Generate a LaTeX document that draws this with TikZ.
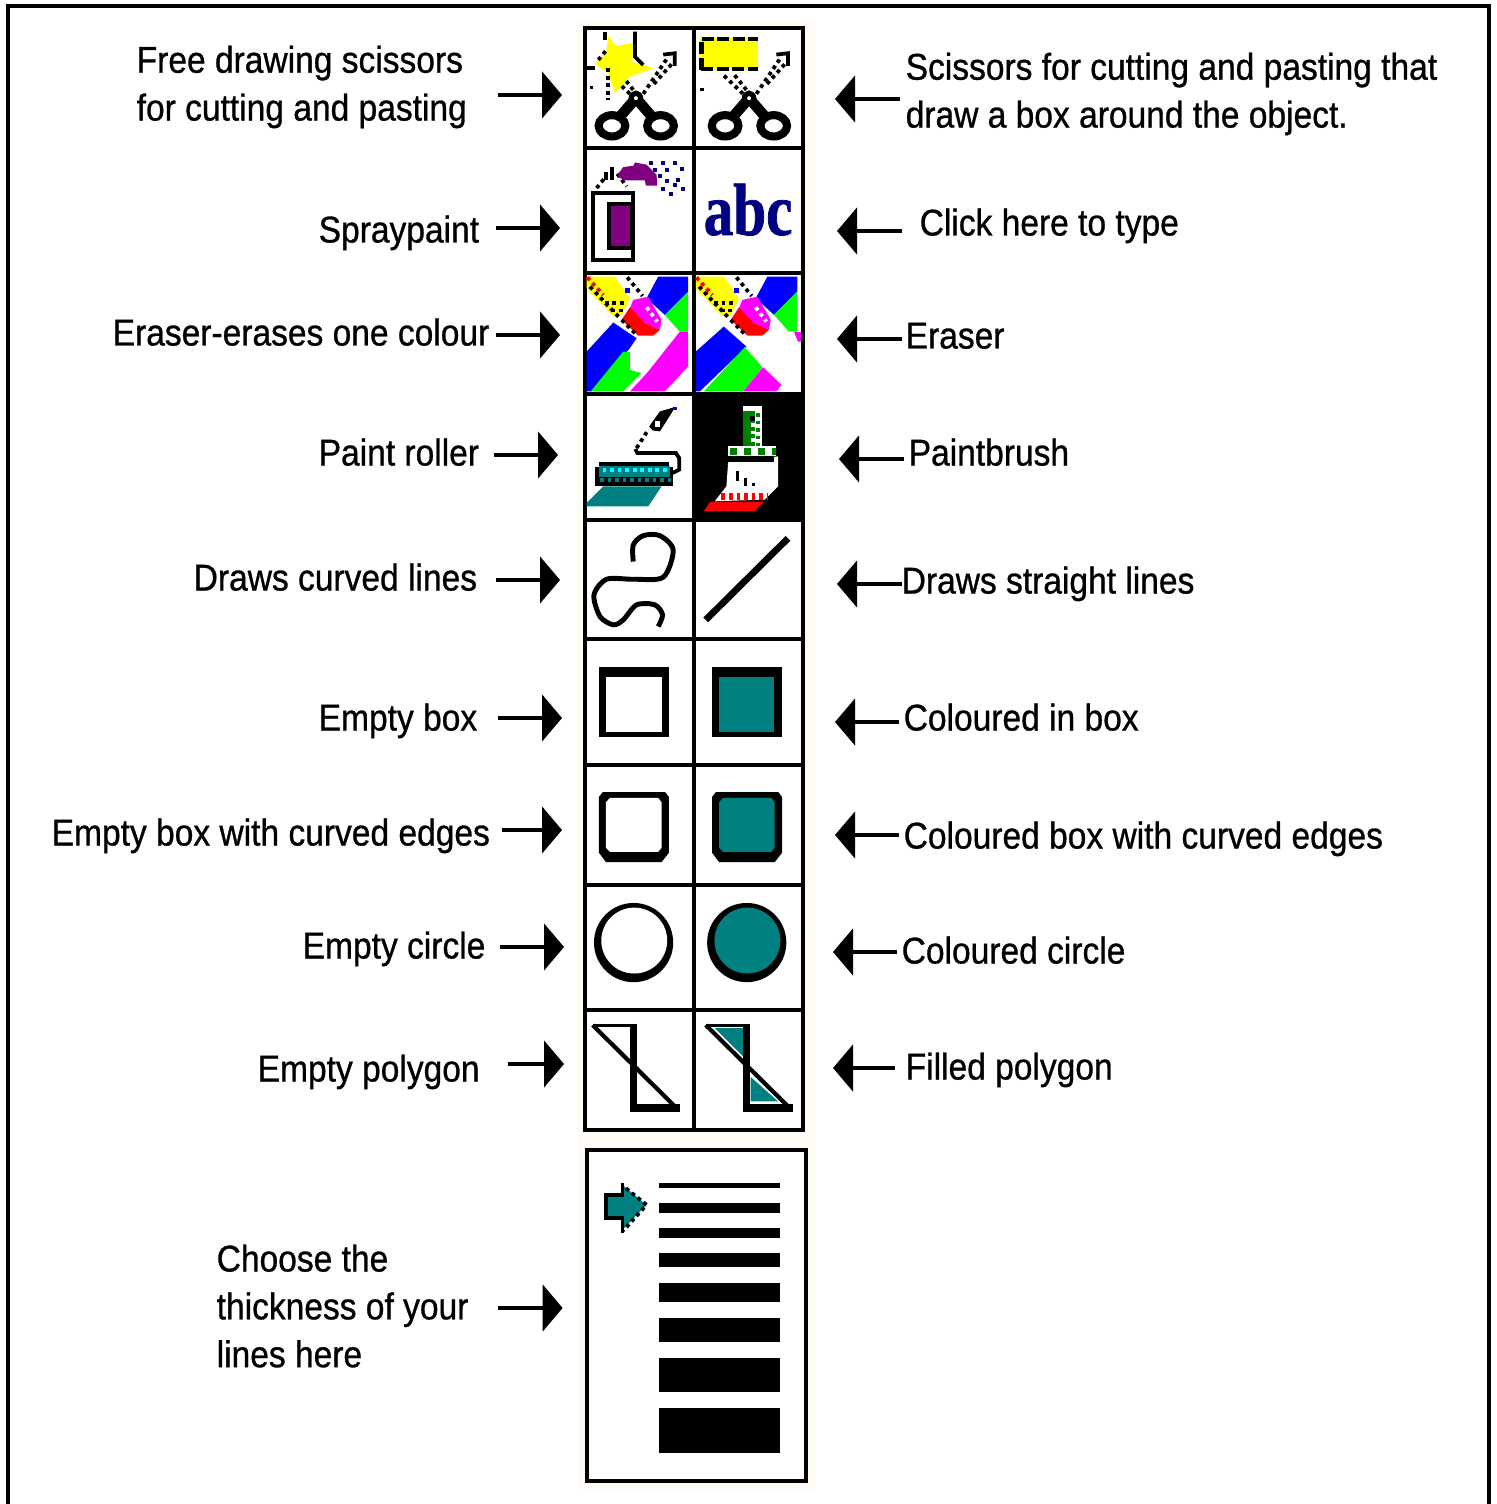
\documentclass[tikz,border=0pt]{standalone}
\usepackage{fontspec}
\setmainfont[FakeStretch=0.9,FakeBold=0.8]{Liberation Sans}
\newfontfamily\iconfont[FakeStretch=0.8,FakeBold=1]{Liberation Serif}
\usetikzlibrary{arrows.meta}
\definecolor{teal}{HTML}{008080}
\definecolor{navy}{HTML}{000080}
\definecolor{purple}{HTML}{800080}
\definecolor{halo}{HTML}{FFFCF5}
\definecolor{magenta}{HTML}{FF00FF}
\definecolor{cyan}{HTML}{00FFFF}
\definecolor{yellow}{HTML}{FFFF00}
\definecolor{red}{HTML}{FF0000}
\definecolor{blue}{HTML}{0000FF}
\definecolor{green}{HTML}{00FF00}
\definecolor{leaf}{HTML}{008000}
\tikzset{
    captionblock/.style={anchor=west, align=left, inner sep=0pt,
        font=\fontsize{10.6}{13.6}\selectfont},
    caption/.style={captionblock, text height=0.27cm, text depth=0.08cm},
    cell/.style={rectangle, draw=black, line width=1.1pt, fill=white, inner sep=0pt, minimum width=1.09cm},
    pointer/.style={-{Triangle[length=0.2cm,width=0.46cm]}, line width=1.4pt, shorten >=0.21cm},
    pix/.style={line width=1.07pt},
    dither/.style={line width=1.07pt, dash pattern=on 1.07pt off 1.07pt},
    bar/.style={fill=black},
    % icons are drawn in the coordinates of a 3x enlargement
    iconA/.style={shift={(580,20)}, x=0.003333cm, y=-0.003333cm},
    iconB/.style={shift={(580,270)}, x=0.003333cm, y=-0.003333cm},
    iconC/.style={shift={(580,520)}, x=0.003333cm, y=-0.003333cm},
    iconD/.style={shift={(580,880)}, x=0.003333cm, y=-0.003333cm},
    iconE/.style={shift={(580,1140)}, x=0.003333cm, y=-0.003333cm},
    scissors/.pic={
        \draw[line width=2.3pt] (96,318) ellipse [x radius=40, y radius=32];
        \draw[line width=2.3pt] (242,318) ellipse [x radius=40, y radius=32];
        \draw[line width=3pt] (122,288) -- (168,235) -- (214,288);
        \fill (168,235) circle [radius=22];
        \fill[white] (168,235) circle [radius=6];
        \draw[dither] (150,222) -- (85,160);
        \draw[dither] (160,210) -- (120,160);
        \draw[dither] (190,222) -- (262,115);
        \draw[dither] (222,192) -- (282,125);
        \draw[pix] (250,104) -- (285,100) -- (285,138);
    },
    erasertop/.pic={
        \fill[blue] (235,20) -- (325,20) -- (325,65) -- (255,135) -- (200,85) -- cycle;
        \fill[green] (325,65) -- (325,185) -- (300,185) -- (255,135) -- cycle;
        \fill[yellow] (20,20) -- (105,20) -- (150,85) -- (125,135) -- (95,135) -- (20,55) -- cycle;
        \draw[line width=1.07pt, red, dash pattern=on 1.07pt off 1.07pt] (22,22) -- (70,75);
        \draw[dither] (30,50) -- (120,145);
        \draw[dither] (75,100) -- (135,100);
        \draw[dither] (95,122) -- (130,122);
        \draw[dither] (142,22) -- (188,78);
        \fill[blue] (135,55) rectangle (150,70);
        \fill[magenta] (160,90) -- (205,80) -- (245,150) -- (240,180) -- (195,160) -- (150,115) -- cycle;
        \fill[red] (150,112) -- (195,160) -- (240,180) -- (220,197) -- (175,197) -- (125,150) -- cycle;
        \draw[white, dither] (200,112) -- (232,155);
        \draw[dither] (125,150) -- (172,197);
    },
}

\begin{document}
\begin{tikzpicture}[x=0.01cm, y=-0.01cm]
    \useasboundingbox (0,0) rectangle (1496,1504);

    % --- Outer frame ---
    \draw[line width=1.2pt] (8,1504) -- (8,6) -- (1489,6) -- (1489,1504);

    % --- Halo round the toolbar ---
    \fill[halo] (578,20) rectangle (815,1140);
    \fill[halo] (578,1140) rectangle (815,1490);

    % --- Toolbar cells ---
    \node[cell, minimum height=1.2cm]  (cScissorA)  at (639.5,88)    {};
    \node[cell, minimum height=1.2cm]  (cScissorB)  at (748.5,88)    {};
    \node[cell, minimum height=1.25cm] (cSpray)     at (639.5,210.5) {};
    \node[cell, minimum height=1.25cm] (cType)      at (748.5,210.5) {};
    \node[cell, minimum height=1.21cm] (cEraseOne)  at (639.5,333.5) {};
    \node[cell, minimum height=1.21cm] (cErase)     at (748.5,333.5) {};
    \node[cell, minimum height=1.26cm] (cRoller)    at (639.5,457)   {};
    \node[cell, minimum height=1.26cm, fill=black] (cBrush) at (748.5,457) {};
    \node[cell, minimum height=1.19cm] (cCurve)     at (639.5,579.5) {};
    \node[cell, minimum height=1.19cm] (cLine)      at (748.5,579.5) {};
    \node[cell, minimum height=1.26cm] (cBox)       at (639.5,702)   {};
    \node[cell, minimum height=1.26cm] (cBoxFill)   at (748.5,702)   {};
    \node[cell, minimum height=1.2cm]  (cRound)     at (639.5,825)   {};
    \node[cell, minimum height=1.2cm]  (cRoundFill) at (748.5,825)   {};
    \node[cell, minimum height=1.25cm] (cCircle)    at (639.5,947.5) {};
    \node[cell, minimum height=1.25cm] (cCircleFill) at (748.5,947.5) {};
    \node[cell, minimum height=1.2cm]  (cPoly)      at (639.5,1070)  {};
    \node[cell, minimum height=1.2cm]  (cPolyFill)  at (748.5,1070)  {};
    \node[cell, minimum width=2.19cm, minimum height=3.31cm, line width=1.3pt] (cWidth) at (696.5,1315.5) {};

    % --- Scissors ---
    \begin{scope}[iconA]
        \pic at (0,0) {scissors};
        \fill[yellow] (85,48) -- (108,78) -- (165,68) -- (155,125) -- (222,145) -- (150,170)
            -- (105,220) -- (85,160) -- (45,132) -- (78,100) -- cycle;
        \draw[pix] (75,35) -- (75,60);
        \draw[pix] (165,35) -- (165,110) -- (190,135);
        \draw[pix] (20,145) -- (45,145);
        \draw[dither] (85,145) -- (85,240);
        \draw[dither] (55,120) -- (80,90);
        \fill (30,198) rectangle (40,208);
        \pic at (340,0) {scissors};
        \fill[yellow] (360,55) rectangle (535,150);
        \draw[line width=1.2pt, dash pattern=on 3.4pt off 1pt] (365,150) -- (365,58) -- (535,58);
        \draw[line width=1.2pt, dash pattern=on 3.4pt off 1pt] (365,148) -- (535,148);
        \fill (360,205) rectangle (374,214);
    \end{scope}

    % --- Spraypaint and type ---
    \begin{scope}[iconA]
        \draw[line width=1.1pt, fill=white] (38,520) rectangle (158,722);
        \draw[line width=1.1pt, fill=purple] (87,552) rectangle (155,686);
        \draw[dither] (50,505) -- (78,470);
        \draw[pix] (95,442) -- (95,482);
        \draw[pix] (78,458) -- (78,482);
        \draw[dither] (112,462) -- (140,500);
        \fill[purple] (115,462) -- (130,442) -- (160,438) -- (165,428) -- (200,435) -- (230,465)
            -- (232,498) -- (198,498) -- (195,482) -- (135,482) -- (115,472) -- cycle;
        \foreach \px/\py in {212/430,250/430,285/430,225/450,262/450,305/448,240/470,262/485,
            295/480,250/507,285/495,308/507,272/522}
            \fill[navy] (\px-6,\py-6) rectangle (\px+6,\py+6);
        \node[inner sep=0pt, text=navy, font=\iconfont\bfseries\fontsize{21}{21}\selectfont] (tAbc) at (505,570) {abc};
    \end{scope}

    % --- Erasers ---
    \begin{scope}[iconB]
        \pic at (0,0) {erasertop};
        \fill[blue] (100,158) -- (170,205) -- (150,235) -- (35,365) -- (20,365) -- (20,245) -- cycle;
        \fill[green] (130,245) -- (150,245) -- (150,300) -- (185,310) -- (130,365) -- (32,365) -- cycle;
        \fill[magenta] (300,185) -- (325,185) -- (325,290) -- (255,365) -- (150,365) -- (205,305) -- cycle;
        \pic at (328,0) {erasertop};
        \fill[white] (628,186) rectangle (665,365);
        \fill[magenta] (643,186) -- (665,186) -- (665,215) -- (655,215) -- cycle;
        \fill[blue] (432,170) -- (500,230) -- (360,365) -- (348,365) -- (348,245) -- cycle;
        \fill[green] (495,232) -- (548,292) -- (490,365) -- (372,365) -- cycle;
        \fill[magenta] (550,292) -- (605,345) -- (590,365) -- (490,365) -- cycle;
    \end{scope}

    % --- Paint roller ---
    \begin{scope}[iconB]
        \fill[teal] (70,650) -- (245,650) -- (205,710) -- (20,710) -- (20,700) -- cycle;
        \fill (45,592) rectangle (280,650);
        \fill (58,577) rectangle (268,592);
        \fill[teal] (58,590) rectangle (270,622);
        \draw[cyan, dither] (68,600) -- (270,600);
        \draw[teal, dither] (60,632) -- (275,632);
        \draw[pix] (278,610) -- (298,600) -- (298,565) -- (288,550) -- (172,550) -- (166,538);
        \draw[dither] (170,535) -- (205,480);
        \fill (208,470) -- (240,425) -- (285,412) -- (275,430) -- (240,485) -- (218,482) -- cycle;
        \fill[white] (225,455) rectangle (240,472);
        \fill[blue] (280,412) rectangle (290,422);
    \end{scope}

    % --- Paintbrush ---
    \begin{scope}[iconB]
        \fill[white] (445,578) -- (595,560) -- (595,650) -- (555,690) -- (405,695) -- (440,650) -- cycle;
        \fill[white] (490,410) rectangle (548,530);
        \fill[leaf] (490,425) rectangle (525,530);
        \fill[white] (445,530) rectangle (590,560);
        \draw[leaf, line width=2pt, dash pattern=on 2pt off 2pt] (450,545) -- (590,545);
        \draw[leaf, dither] (535,430) -- (535,530);
        \draw[white, dither] (520,460) -- (520,530);
        \fill (455,562) rectangle (582,576);
        \fill (468,605) rectangle (478,635);
        \fill (492,625) rectangle (502,648);
        \fill (516,640) rectangle (526,650);
        \fill (510,440) rectangle (525,455);
        \draw[red, line width=2.1pt, dash pattern=on 1.07pt off 1.07pt] (425,680) -- (562,680);
        \fill[red] (372,725) -- (392,696) -- (552,696) -- (525,725) -- cycle;
    \end{scope}

    % --- Curved and straight line ---
    \begin{scope}[iconC]
        \draw[line width=1.4pt] plot[smooth, tension=0.5] coordinates {(160,125) (160,75) (190,47) (240,47)
            (280,90) (250,172) (160,178) (80,178) (42,225) (60,290) (100,315) (130,300) (170,255)
            (225,255) (248,285) (235,320)};
        \draw[line width=1.9pt] (378,300) -- (625,55);
    \end{scope}

    % --- Boxes ---
    \begin{scope}[iconC]
        \fill (57,442) rectangle (267,652);
        \fill[white] (78,472) rectangle (245,637);
        \fill (397,442) rectangle (606,652);
        \fill[teal] (418,472) rectangle (584,637);
        \fill (68,818) -- (256,818) -- (267,832) -- (267,1000) -- (245,1028) -- (78,1028) -- (57,1000) -- (57,832) -- cycle;
        \fill[white] (90,835) -- (235,835) -- (245,848) -- (245,985) -- (235,997) -- (90,997) -- (78,985) -- (78,848) -- cycle;
        \fill (408,818) -- (596,818) -- (607,832) -- (607,1000) -- (585,1028) -- (418,1028) -- (397,1000) -- (397,832) -- cycle;
        \fill[teal] (430,835) -- (575,835) -- (585,848) -- (585,985) -- (575,997) -- (430,997) -- (418,985) -- (418,848) -- cycle;
    \end{scope}

    % --- Circles ---
    \begin{scope}[iconD]
        \fill (161,188) circle [radius=119];
        \fill[white] (163,182) circle [radius=99];
        \fill (501,188) circle [radius=119];
        \fill[teal] (503,182) circle [radius=99];
    \end{scope}

    % --- Polygons ---
    \begin{scope}[iconD]
        \draw[line width=1.2pt] (38,436) -- (295,690);
        \draw[line width=1.1pt] (38,437) -- (172,437);
        \draw[line width=2pt] (161,432) -- (161,695);
        \draw[line width=2.2pt] (150,684) -- (300,684);
        \fill[teal] (405,445) -- (490,445) -- (490,530) -- cycle;
        \fill[teal] (513,592) -- (595,665) -- (513,665) -- cycle;
        \draw[line width=1.2pt] (378,436) -- (635,690);
        \draw[line width=1.1pt] (378,437) -- (512,437);
        \draw[line width=2pt] (501,432) -- (501,695);
        \draw[line width=2.2pt] (490,684) -- (640,684);
    \end{scope}

    % --- Line thickness chooser ---
    \begin{scope}[iconE]
        \fill[bar] (238,128) rectangle (600,145);
        \fill[bar] (238,188) rectangle (600,218);
        \fill[bar] (238,265) rectangle (600,293);
        \fill[bar] (238,340) rectangle (600,383);
        \fill[bar] (238,430) rectangle (600,488);
        \fill[bar] (238,535) rectangle (600,608);
        \fill[bar] (238,655) rectangle (600,758);
        \fill[bar] (238,805) rectangle (600,940);
        \fill[teal] (80,165) -- (128,165) -- (128,135) -- (200,195) -- (128,270) -- (128,232) -- (80,232) -- cycle;
        \draw[line width=1.07pt] (128,130) -- (128,165) -- (78,165) -- (78,235) -- (128,235) -- (128,278);
        \draw[dither] (138,145) -- (200,195) -- (130,272);
    \end{scope}

    % --- Left captions ---
    \node[captionblock] (tFree) at (136,87) {Free drawing scissors\\for cutting and pasting};
    \node[caption] (tSpray)  at (318,233)  {Spraypaint};
    \node[caption] (tEraseOne) at (112,336) {Eraser-erases one colour};
    \node[caption] (tRoller) at (318,456)  {Paint roller};
    \node[caption] (tCurve)  at (193,581)  {Draws curved lines};
    \node[caption] (tBox)    at (318,721)  {Empty box};
    \node[caption] (tRound)  at (51,836)   {Empty box with curved edges};
    \node[caption] (tCircle) at (302,949)  {Empty circle};
    \node[caption] (tPoly)   at (257,1072) {Empty polygon};
    \node[captionblock] (tWidth) at (216,1306) {Choose the\\thickness of your\\lines here};

    % --- Right captions ---
    \node[captionblock] (tScissorB) at (905,94) {Scissors for cutting and pasting that\\draw a box around the object.};
    \node[caption] (tType)   at (919,226)  {Click here to type};
    \node[caption] (tErase)  at (905,339)  {Eraser};
    \node[caption] (tBrush)  at (908,456)  {Paintbrush};
    \node[caption] (tLine)   at (901,584)  {Draws straight lines};
    \node[caption] (tBoxFill) at (903,721) {Coloured in box};
    \node[caption] (tRoundFill) at (903,839) {Coloured box with curved edges};
    \node[caption] (tCircleFill) at (901,954) {Coloured circle};
    \node[caption] (tPolyFill) at (905,1070) {Filled polygon};

    % --- Tails of the arrows ---
    \coordinate (pFree)   at (498,95);
    \coordinate (pSpray)  at (496,228);
    \coordinate (pEraseOne) at (496,335);
    \coordinate (pRoller) at (494,455);
    \coordinate (pCurve)  at (496,580);
    \coordinate (pBox)    at (498,718);
    \coordinate (pRound)  at (502,830);
    \coordinate (pCircle) at (500,947);
    \coordinate (pPoly)   at (508,1064);
    \coordinate (pWidth)  at (498,1308);
    \coordinate (pScissorB) at (900,99);
    \coordinate (pType)   at (902,231);
    \coordinate (pErase)  at (902,339);
    \coordinate (pBrush)  at (904,459);
    \coordinate (pLine)   at (902,584);
    \coordinate (pBoxFill) at (899,722);
    \coordinate (pRoundFill) at (899,835);
    \coordinate (pCircleFill) at (897,952);
    \coordinate (pPolyFill) at (895,1068);

    % --- Arrows to the left column ---
    \draw[pointer] (pFree) -- (pFree -| cScissorA.west);
    \draw[pointer, shorten >=0.23cm] (pSpray) -- (pSpray -| cSpray.west);
    \draw[pointer, shorten >=0.23cm] (pEraseOne) -- (pEraseOne -| cEraseOne.west);
    \draw[pointer, shorten >=0.25cm] (pRoller) -- (pRoller -| cRoller.west);
    \draw[pointer, shorten >=0.23cm] (pCurve) -- (pCurve -| cCurve.west);
    \draw[pointer] (pBox) -- (pBox -| cBox.west);
    \draw[pointer] (pRound) -- (pRound -| cRound.west);
    \draw[pointer, shorten >=0.19cm] (pCircle) -- (pCircle -| cCircle.west);
    \draw[pointer, shorten >=0.19cm] (pPoly) -- (pPoly -| cPoly.west);
    \draw[pointer, shorten >=0.22cm] (pWidth) -- (pWidth -| cWidth.west);

    % --- Arrows to the right column ---
    \draw[pointer, shorten >=0.3cm] (pScissorB) -- (pScissorB -| cScissorB.east);
    \draw[pointer, shorten >=0.32cm] (pType) -- (pType -| cType.east);
    \draw[pointer, shorten >=0.32cm] (pErase) -- (pErase -| cErase.east);
    \draw[pointer, shorten >=0.34cm] (pBrush) -- (pBrush -| cBrush.east);
    \draw[pointer, shorten >=0.32cm] (pLine) -- (pLine -| cLine.east);
    \draw[pointer, shorten >=0.3cm] (pBoxFill) -- (pBoxFill -| cBoxFill.east);
    \draw[pointer, shorten >=0.3cm] (pRoundFill) -- (pRoundFill -| cRoundFill.east);
    \draw[pointer, shorten >=0.28cm] (pCircleFill) -- (pCircleFill -| cCircleFill.east);
    \draw[pointer, shorten >=0.28cm] (pPolyFill) -- (pPolyFill -| cPolyFill.east);

\end{tikzpicture}
\end{document}
